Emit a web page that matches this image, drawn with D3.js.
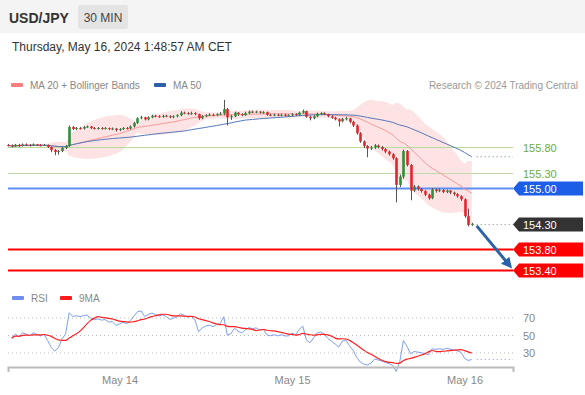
<!DOCTYPE html>
<html>
<head>
<meta charset="utf-8">
<script src="https://cdn.jsdelivr.net/npm/d3@7"></script>
<style>
body { margin: 0; background: #fff; }
svg { display: block; font-family: "Liberation Sans", Arial, sans-serif; }
</style>
</head>
<body>
<svg id="chart" width="585" height="395"></svg>
<script>
// 30 min candles, open = previous close
var firstOpen = 155.84;
var startTime = new Date(2024, 4, 13, 8, 30);
var closes = [
    155.83, 155.81, 155.84, 155.82, 155.85, 155.84, 155.83, 155.85, 155.84, 155.83,
    155.84, 155.80, 155.74, 155.70, 155.72, 155.78, 155.82, 156.19, 156.15, 156.17,
    156.16, 156.19, 156.20, 156.17, 156.16, 156.17, 156.16, 156.17, 156.15, 156.16,
    156.13, 156.15, 156.17, 156.16, 156.20, 156.27, 156.36, 156.38, 156.34, 156.38,
    156.41, 156.40, 156.39, 156.41, 156.40, 156.38, 156.40, 156.42, 156.47, 156.46,
    156.45, 156.46, 156.44, 156.36, 156.40, 156.42, 156.43, 156.42, 156.44, 156.45,
    156.54, 156.38, 156.40, 156.47, 156.44, 156.42, 156.46, 156.49, 156.48, 156.49,
    156.47, 156.48, 156.43, 156.42, 156.43, 156.42, 156.43, 156.42, 156.42, 156.44,
    156.43, 156.47, 156.50, 156.39, 156.36, 156.40, 156.45, 156.46, 156.44, 156.40,
    156.37, 156.34, 156.30, 156.35, 156.36, 156.29, 156.22, 156.07, 155.91, 155.82,
    155.77, 155.79, 155.83, 155.80, 155.76, 155.71, 155.66, 155.58, 155.06, 155.22,
    155.72, 155.45, 154.95, 155.03, 154.98, 154.94, 154.87, 154.80, 154.97, 154.94,
    154.96, 154.92, 154.95, 154.91, 154.88, 154.84, 154.78, 154.45, 154.28, 154.30
];
var highs = [
    155.86, 155.85, 155.86, 155.86, 155.87, 155.87, 155.86, 155.87, 155.86, 155.86,
    155.86, 155.85, 155.81, 155.76, 155.74, 155.80, 155.84, 156.22, 156.21, 156.19,
    156.19, 156.21, 156.22, 156.21, 156.19, 156.19, 156.19, 156.19, 156.18, 156.18,
    156.17, 156.17, 156.19, 156.19, 156.22, 156.29, 156.38, 156.41, 156.39, 156.40,
    156.43, 156.43, 156.42, 156.43, 156.43, 156.42, 156.42, 156.44, 156.50, 156.49,
    156.48, 156.49, 156.48, 156.45, 156.42, 156.44, 156.46, 156.45, 156.46, 156.48,
    156.72, 156.56, 156.43, 156.49, 156.48, 156.46, 156.49, 156.51, 156.51, 156.51,
    156.50, 156.50, 156.49, 156.45, 156.45, 156.45, 156.45, 156.45, 156.44, 156.46,
    156.46, 156.49, 156.53, 156.51, 156.41, 156.42, 156.47, 156.48, 156.48, 156.45,
    156.42, 156.39, 156.36, 156.37, 156.39, 156.37, 156.31, 156.24, 156.09, 155.93,
    155.84, 155.82, 155.86, 155.85, 155.82, 155.78, 155.73, 155.68, 155.60, 155.26,
    155.75, 155.74, 155.47, 155.06, 155.05, 155.00, 154.96, 154.89, 155.00, 154.99,
    154.99, 154.98, 154.97, 154.96, 154.93, 154.90, 154.86, 154.80, 154.60, 154.32
];
var lows = [
    155.81, 155.79, 155.80, 155.80, 155.81, 155.82, 155.81, 155.82, 155.82, 155.81,
    155.82, 155.78, 155.70, 155.64, 155.65, 155.70, 155.76, 155.80, 156.13, 156.13,
    156.14, 156.14, 156.17, 156.15, 156.14, 156.14, 156.14, 156.14, 156.13, 156.13,
    156.10, 156.11, 156.13, 156.14, 156.14, 156.18, 156.25, 156.34, 156.32, 156.32,
    156.36, 156.38, 156.37, 156.37, 156.38, 156.36, 156.36, 156.38, 156.40, 156.44,
    156.43, 156.43, 156.42, 156.33, 156.34, 156.38, 156.40, 156.40, 156.40, 156.42,
    156.42, 156.22, 156.33, 156.38, 156.41, 156.40, 156.41, 156.44, 156.46, 156.46,
    156.45, 156.45, 156.41, 156.40, 156.40, 156.40, 156.40, 156.40, 156.40, 156.40,
    156.41, 156.41, 156.45, 156.37, 156.32, 156.34, 156.38, 156.43, 156.42, 156.38,
    156.35, 156.32, 156.20, 156.28, 156.32, 156.26, 156.19, 156.04, 155.88, 155.78,
    155.60, 155.74, 155.76, 155.77, 155.73, 155.68, 155.63, 155.55, 154.72, 155.02,
    155.18, 155.42, 154.76, 154.92, 154.95, 154.91, 154.84, 154.77, 154.78, 154.91,
    154.92, 154.90, 154.90, 154.88, 154.85, 154.81, 154.75, 154.42, 154.25, 154.26
];
var dayTicks = [new Date(2024, 4, 14), new Date(2024, 4, 15), new Date(2024, 4, 16)];
var levelValues = [155.80, 155.30, 155.00, 154.30, 153.80, 153.40];
var rsiLevels = [70, 50, 30];

var svg = d3.select('#chart');

// header
svg.append('rect').attr('x', 0).attr('y', 0).attr('width', 585).attr('height', 33).attr('fill', '#f4f4f4');
svg.append('text').attr('x', 9).attr('y', 23).attr('font-size', 14).attr('font-weight', 'bold')
    .attr('fill', '#333').text('USD/JPY');
svg.append('rect').attr('x', 78).attr('y', 5).attr('width', 50).attr('height', 24).attr('rx', 2).attr('fill', '#e4e4e4');
svg.append('text').attr('x', 103).attr('y', 21.5).attr('text-anchor', 'middle').attr('font-size', 12)
    .attr('fill', '#444').text('30 MIN');
svg.append('text').attr('x', 12).attr('y', 51).attr('font-size', 12).attr('fill', '#333')
    .text('Thursday, May 16, 2024 1:48:57 AM CET');

// legend
function legendItem(x, y, color, label) {
    svg.append('rect').attr('x', x).attr('y', y - 2).attr('width', 12).attr('height', 4).attr('rx', 1).attr('fill', color);
    svg.append('text').attr('x', x + 19).attr('y', y + 3.5).attr('font-size', 10).attr('fill', '#888').text(label);
}
legendItem(11, 85, '#f77f7f', 'MA 20 + Bollinger Bands');
legendItem(154, 85, '#2f5fa6', 'MA 50');
svg.append('text').attr('x', 578).attr('y', 88.5).attr('text-anchor', 'end').attr('font-size', 10)
    .attr('fill', '#999').text('Research \u00a9 2024 Trading Central');
legendItem(12, 298, '#6f8ff0', 'RSI');
legendItem(60, 298, '#ff1a1a', '9MA');

// scales
var xDay = d3.scaleTime().domain([dayTicks[0], dayTicks[2]]).range([119.5, 464.5]);
var x = d3.scaleTime().domain([xDay.invert(8), xDay.invert(513)]).range([8, 513]);
var y = d3.scaleLinear().domain([153.40, 155.80]).range([270, 147]);
var rsiY = d3.scaleLinear().domain([30, 70]).range([353, 318]);

var candles = closes.map(function (c, i) {
    return {
        t: d3.timeMinute.offset(startTime, 30 * i),
        o: i ? closes[i - 1] : firstOpen,
        c: c,
        h: highs[i],
        l: lows[i]
    };
});

// moving averages + bollinger
candles.forEach(function (d, i) {
    var w20 = closes.slice(Math.max(0, i - 19), i + 1);
    var w50 = closes.slice(Math.max(0, i - 49), i + 1);
    d.ma20 = d3.mean(w20);
    var sd = Math.sqrt(d3.mean(w20, function (v) { return (v - d.ma20) * (v - d.ma20); }));
    d.up = d.ma20 + 2 * sd;
    d.dn = d.ma20 - 2 * sd;
    d.ma50 = d3.mean(w50);
});

// rsi 14 (wilder); history before the window is unknown, start from a neutral seed
var changes = closes.slice(1).map(function (c, i) { return c - closes[i]; });
var seed = d3.mean(changes.slice(0, 14), Math.abs) / 2;
var ag = seed, al = seed;
candles.forEach(function (d, i) {
    if (i === 0) return;
    var ch = changes[i - 1];
    ag = (ag * 13 + Math.max(ch, 0)) / 14;
    al = (al * 13 + Math.max(-ch, 0)) / 14;
    d.rsi = al === 0 ? 100 : 100 - 100 / (1 + ag / al);
});
var rsiData = candles.slice(1);
rsiData.forEach(function (d, i) {
    d.rsiMa = d3.mean(rsiData.slice(Math.max(0, i - 8), i + 1), function (e) { return e.rsi; });
});

var last = candles[candles.length - 1];
var xEnd = x.range()[1];
var xTail = x(last.t) + 5;

// bollinger band
svg.append('path').datum(candles)
    .attr('fill', '#fde3e3')
    .attr('d', d3.area().x(function (d) { return x(d.t); })
        .y0(function (d) { return y(d.dn); })
        .y1(function (d) { return y(d.up); })
        .curve(d3.curveMonotoneX));

// horizontal levels
var levelStyle = [
    { stroke: '#b9dc9c', width: 1, text: '#6aad3c' },
    { stroke: '#c2d9a8', width: 1, text: '#6aad3c' },
    { stroke: '#5f8ff5', width: 2, box: '#1d5ee8' },
    { stroke: '#888', width: 1, box: '#333', dotted: true },
    { stroke: '#ff0000', width: 2, box: '#ff0000' },
    { stroke: '#ff0000', width: 2, box: '#ff0000' }
];
levelValues.forEach(function (v, i) {
    var s = levelStyle[i];
    var yy = Math.round(y(v)) + 0.5;
    var line = svg.append('line')
        .attr('x1', s.dotted ? xTail : 8).attr('x2', xEnd)
        .attr('y1', yy).attr('y2', yy)
        .attr('stroke', s.stroke).attr('stroke-width', s.width);
    if (s.dotted) line.attr('stroke-dasharray', '1,3');
    if (s.box) {
        svg.append('path')
            .attr('d', 'M' + xEnd + ',' + yy + 'L' + (xEnd + 6) + ',' + (yy - 7) + 'L583,' + (yy - 7) +
                'L583,' + (yy + 7) + 'L' + (xEnd + 6) + ',' + (yy + 7) + 'Z')
            .attr('fill', s.box);
    }
    svg.append('text').attr('x', 523).attr('y', yy + 4).attr('font-size', 11)
        .attr('fill', s.box ? '#fff' : s.text).text(v.toFixed(2));
});

// moving average lines
svg.append('path').datum(candles)
    .attr('fill', 'none').attr('stroke', '#f59a9a').attr('stroke-width', 1)
    .attr('d', d3.line().x(function (d) { return x(d.t); }).y(function (d) { return y(d.ma20); }).curve(d3.curveMonotoneX));
svg.append('path').datum(candles)
    .attr('fill', 'none').attr('stroke', '#5577b8').attr('stroke-width', 1)
    .attr('d', d3.line().x(function (d) { return x(d.t); }).y(function (d) { return y(d.ma50); }).curve(d3.curveMonotoneX));
svg.append('line').attr('x1', xTail).attr('x2', xEnd)
    .attr('y1', y(last.ma50)).attr('y2', y(last.ma50))
    .attr('stroke', '#5577b8').attr('stroke-dasharray', '1,3');

// candles
var cw = 2.6;
var g = svg.append('g');
g.selectAll('line.wick').data(candles).enter().append('line')
    .attr('class', 'wick')
    .attr('x1', function (d) { return Math.round(x(d.t)) + 0.5; })
    .attr('x2', function (d) { return Math.round(x(d.t)) + 0.5; })
    .attr('y1', function (d) { return y(d.h); })
    .attr('y2', function (d) { return y(d.l); })
    .attr('stroke', '#555')
    .attr('stroke-width', 1);
g.selectAll('rect.body').data(candles).enter().append('rect')
    .attr('class', 'body')
    .attr('x', function (d) { return Math.round(x(d.t)) + 0.5 - cw / 2; })
    .attr('width', cw)
    .attr('y', function (d) { return y(Math.max(d.o, d.c)); })
    .attr('height', function (d) { return Math.max(1, Math.abs(y(d.o) - y(d.c))); })
    .attr('fill', function (d) { return d.c >= d.o ? '#2f8f3a' : '#e0262d'; });

// target arrow
svg.append('defs').append('marker')
    .attr('id', 'head').attr('viewBox', '0 0 10 10').attr('refX', 7).attr('refY', 5)
    .attr('markerWidth', 3.6).attr('markerHeight', 3.6).attr('orient', 'auto')
    .append('path').attr('d', 'M0,0L10,5L0,10Z').attr('fill', '#2d62a8');
svg.append('line')
    .attr('x1', xTail).attr('y1', y(last.c) + 2)
    .attr('x2', xEnd - 3).attr('y2', y(levelValues[5]) - 4)
    .attr('stroke', '#2d62a8').attr('stroke-width', 3)
    .attr('marker-end', 'url(#head)');

// rsi panel
rsiLevels.forEach(function (v) {
    svg.append('line').attr('x1', 8).attr('x2', xEnd)
        .attr('y1', rsiY(v)).attr('y2', rsiY(v))
        .attr('stroke', '#bbb').attr('stroke-dasharray', '1,3');
    svg.append('text').attr('x', 523).attr('y', rsiY(v) + 4).attr('font-size', 11)
        .attr('fill', '#888').text(v);
});
svg.append('path').datum(rsiData)
    .attr('fill', 'none').attr('stroke', '#7d9ef2').attr('stroke-width', 1)
    .attr('d', d3.line().x(function (d) { return x(d.t); }).y(function (d) { return rsiY(d.rsi); }));
svg.append('path').datum(rsiData)
    .attr('fill', 'none').attr('stroke', '#ff2020').attr('stroke-width', 1.2)
    .attr('d', d3.line().x(function (d) { return x(d.t); }).y(function (d) { return rsiY(d.rsiMa); }).curve(d3.curveMonotoneX));
svg.append('line').attr('x1', xTail).attr('x2', xEnd)
    .attr('y1', rsiY(last.rsi)).attr('y2', rsiY(last.rsi))
    .attr('stroke', '#7d9ef2').attr('stroke-dasharray', '1,3');

// time axis
var axis = svg.append('g').attr('transform', 'translate(0,367)')
    .call(d3.axisBottom(x).tickValues(dayTicks).tickSizeInner(0).tickSizeOuter(5)
        .tickPadding(9).tickFormat(d3.timeFormat('%b %-d')));
axis.select('.domain').attr('stroke', '#bbb').attr('stroke-width', 2);
axis.selectAll('text').attr('font-size', 11).attr('fill', '#888')
    .attr('font-family', '"Liberation Sans", Arial, sans-serif');
</script>
</body>
</html>
